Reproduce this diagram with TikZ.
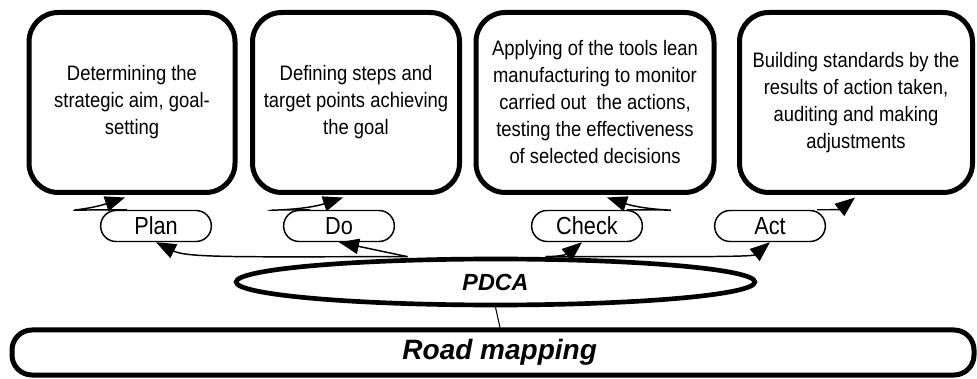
\documentclass[tikz,border=0pt]{standalone}
\usepackage{fontspec}
\setmainfont{Liberation Sans}
\newfontfamily\narrowsans[FakeStretch=0.88]{Liberation Sans}
\usetikzlibrary{arrows.meta,shapes.geometric,calc}

\tikzset{
	phasebox/.style={draw, line width=3.75pt, rounded corners=22pt, minimum height=135pt, inner sep=0pt, align=center, font=\narrowsans\fontsize{15.7}{20.25}\selectfont},
	phasetag/.style={draw, line width=1.1pt, rounded corners=11.5pt, minimum width=83pt, minimum height=23.25pt, inner sep=0pt, font=\narrowsans\fontsize{18.5}{22}\selectfont},
	arr/.style={line width=1.1pt, -{Triangle[length=15pt,width=11.5pt]}}
}

\begin{document}
\begin{tikzpicture}[x=0.75pt, y=0.75pt]
	\useasboundingbox (0,0) rectangle (977,378);
	\node (planbox) [phasebox, minimum width=154.5pt] at (132, 275.5) {Determining the\\strategic aim, goal-\\setting};
	\node (dobox) [phasebox, minimum width=155.25pt] at (356, 275.5) {Defining steps and\\target points achieving\\the goal};
	\node (checkbox) [phasebox, minimum width=178.5pt] at (595, 275.5) {Applying of the tools lean\\manufacturing to monitor\\carried out\ \ the actions,\\testing the effectiveness\\of selected decisions};
	\node (actbox) [phasebox, minimum width=174.75pt] at (856, 275.5) {Building standards by the\\results of action taken,\\auditing and making\\adjustments};
	\node (plan) [phasetag] at (156, 152) {Plan};
	\node (do) [phasetag] at (339, 152) {Do};
	\node (check) [phasetag] at (587, 152) {Check};
	\node (act) [phasetag] at (770, 152) {Act};
	\node (pdca) [draw, ellipse, line width=3.5pt, minimum width=389pt, minimum height=34.5pt, inner sep=0pt, font=\bfseries\itshape\fontsize{17.5}{20}\selectfont] at (495.5, 96) {PDCA};
	\node (road) [draw, line width=3.75pt, rounded corners=15pt, minimum width=721.5pt, minimum height=33.75pt, inner sep=0pt, font=\bfseries\itshape\fontsize{21}{25}\selectfont] at (493, 25.5) {\hspace*{10pt}Road mapping};
	% tags to boxes
	\draw[arr] ($(plan.north)+(-29,0)$) .. controls +(-85,0) and +(-45,-15) .. ($(planbox.south)+(-7,-2.5)$);
	\draw[arr] ($(do.north)+(-29,0)$) .. controls +(-80,0) and +(-45,-15) .. ($(dobox.south)+(-13,-2.5)$);
	\draw[arr] ($(check.north)+(40,0)$) .. controls +(85,0) and +(45,-15) .. ($(checkbox.south)+(12,-2.5)$);
	\draw[arr] ($(act.north)+(47,0)$) .. controls +(25,0) and +(-15,-12) .. ($(actbox.south)+(-1,-2.5)$);
	% pdca to tags
	\draw[arr] ($(pdca.north)+(-88,0)$) .. controls +(-160,0) and +(32,-16) .. (plan.south);
	\draw[arr] ($(pdca.north)+(-88,0)$) -- (do.south);
	\draw[arr] ($(pdca.north)+(50,0)$) .. controls +(20,0) and +(-12,-10) .. ($(check.south)+(-5,0)$);
	\draw[arr] ($(pdca.north)+(50,0)$) .. controls +(120,0) and +(-18,-15) .. (act.south);
	\draw[line width=0.8pt] (pdca.south) -- ($(road.north)+(7,0)$);
\end{tikzpicture}
\end{document}
